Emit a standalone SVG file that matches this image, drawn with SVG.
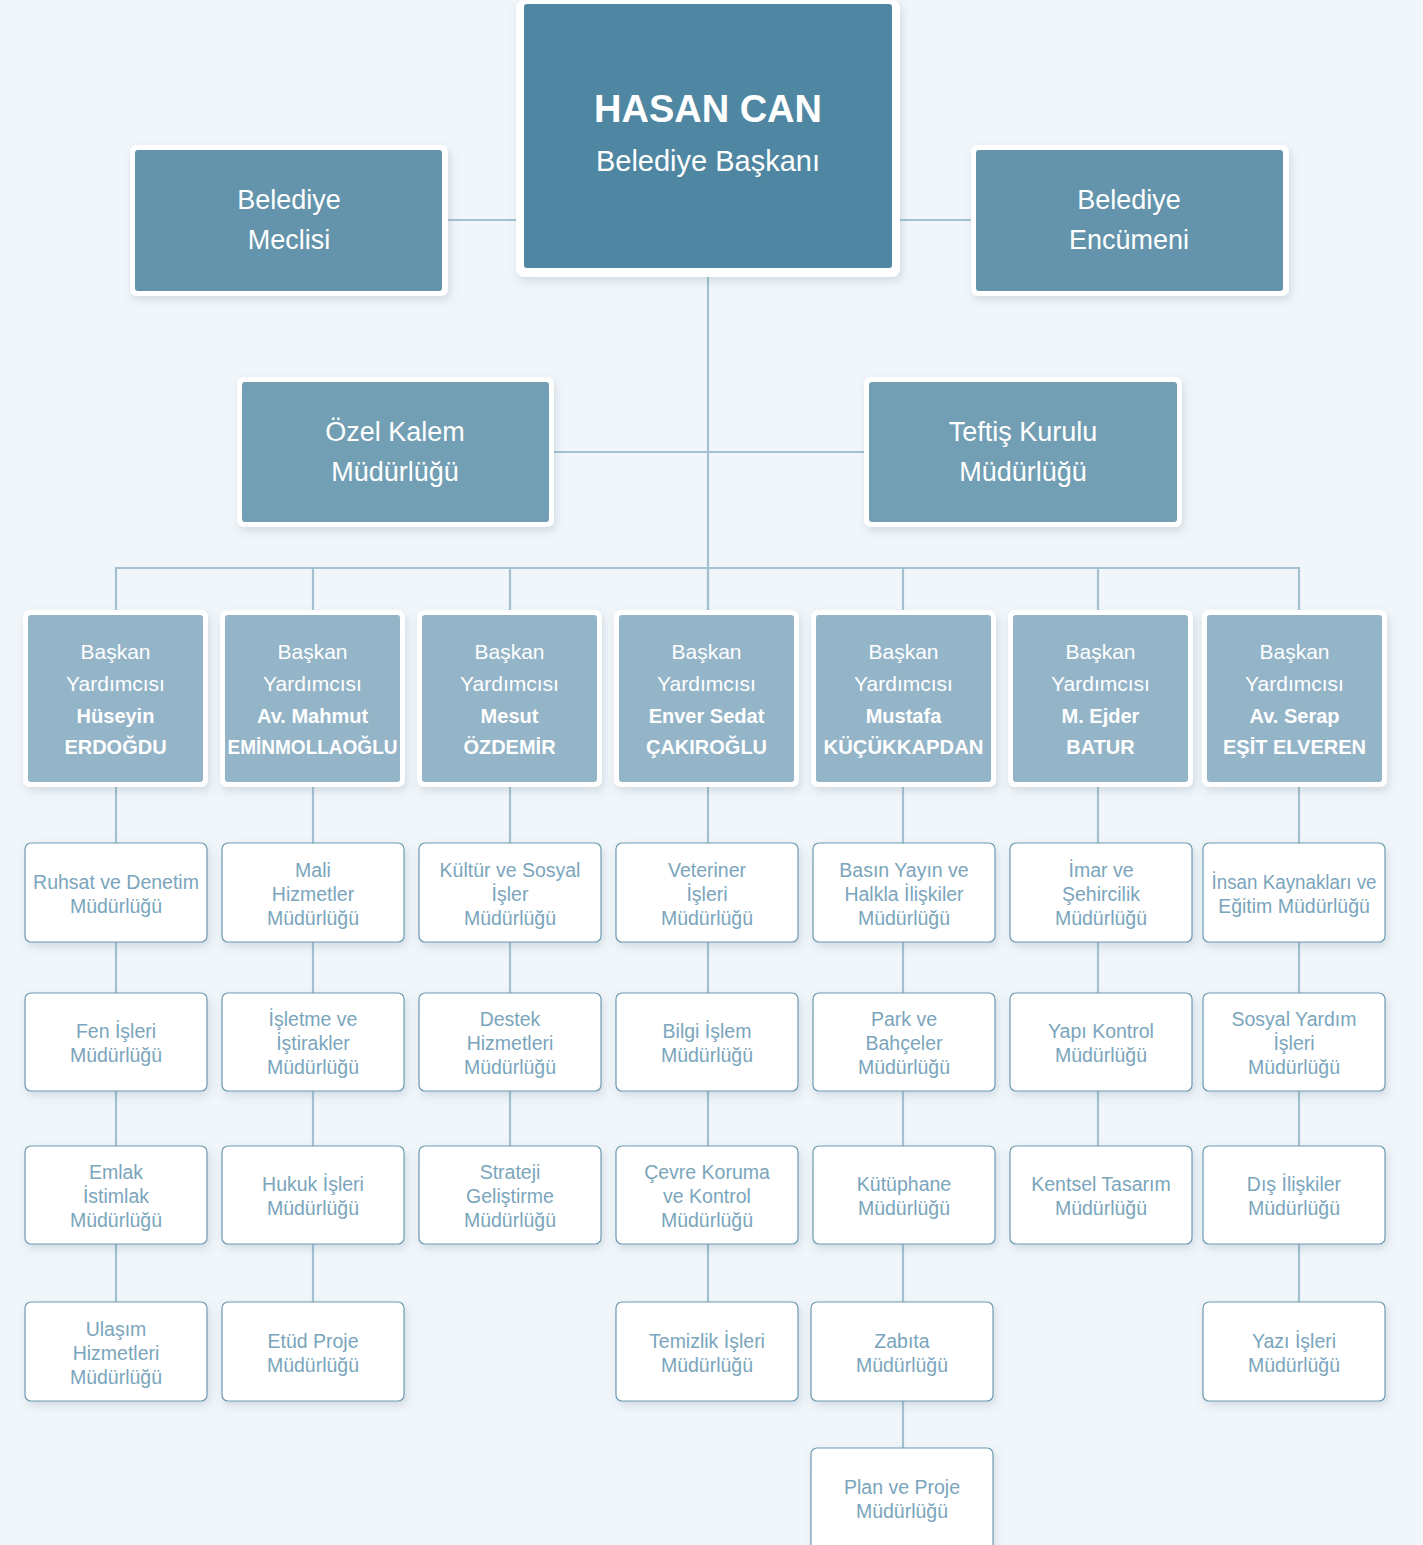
<svg xmlns="http://www.w3.org/2000/svg" width="1423" height="1545" viewBox="0 0 1423 1545">
<defs>
<filter id="sh" x="-10%" y="-10%" width="125%" height="130%">
<feDropShadow dx="2" dy="4" stdDeviation="4" flood-color="#5a7a8c" flood-opacity="0.22"/>
</filter>
<style>
.frame{fill:#ffffff;filter:url(#sh)}
.top{fill:#4F87A2}
.side{fill:#6494AB}
.mid{fill:#729FB4}
.dep{fill:#94B4C8}
.leaf{fill:#ffffff;stroke:#6E9AB1;stroke-width:1.2;filter:url(#sh)}
.con{stroke:#A4C1D2;stroke-width:2.2;fill:none}
text{font-family:"Liberation Sans",Arial,sans-serif;text-anchor:middle}
.wt{fill:#ffffff}
.big{font-size:38px;font-weight:bold}
.sub{font-size:29px}
.t27{font-size:27px}
.d{font-size:21px}
.db{font-size:20px;font-weight:bold}
.lt{fill:#7AA5BC;font-size:19.5px}
</style>
</defs>
<rect width="1423" height="1545" fill="#F1F6FA"/>
<g id="connectors">
<line class="con" x1="448" y1="220" x2="516" y2="220"/>
<line class="con" x1="899" y1="220" x2="971" y2="220"/>
<line class="con" x1="708" y1="277" x2="708" y2="612"/>
<line class="con" x1="554" y1="452" x2="864" y2="452"/>
<line class="con" x1="116" y1="568" x2="1299" y2="568"/>
<line class="con" x1="116" y1="567" x2="116" y2="1302"/>
<line class="con" x1="313" y1="568" x2="313" y2="1302"/>
<line class="con" x1="510" y1="568" x2="510" y2="1146"/>
<line class="con" x1="708" y1="568" x2="708" y2="1302"/>
<line class="con" x1="903" y1="568" x2="903" y2="1448"/>
<line class="con" x1="1098" y1="568" x2="1098" y2="1146"/>
<line class="con" x1="1299" y1="567" x2="1299" y2="1302"/>
</g>
<g id="baskan">
<rect class="frame" x="516" y="0" width="384" height="277" rx="8"/>
<rect class="top" x="524" y="4" width="368" height="264" rx="3"/>
<text class="wt big" x="708" y="122">HASAN CAN</text>
<text class="wt sub" x="708" y="171">Belediye Başkanı</text>
</g>
<g id="meclis">
<rect class="frame" x="130" y="145" width="318" height="151" rx="7"/>
<rect class="side" x="135" y="150" width="307" height="141" rx="3"/>
<text class="wt t27" x="289" y="209">Belediye</text>
<text class="wt t27" x="289" y="249">Meclisi</text>
</g>
<g id="encumen">
<rect class="frame" x="971" y="145" width="318" height="151" rx="7"/>
<rect class="side" x="976" y="150" width="307" height="141" rx="3"/>
<text class="wt t27" x="1129" y="209">Belediye</text>
<text class="wt t27" x="1129" y="249">Encümeni</text>
</g>
<g id="ozelkalem">
<rect class="frame" x="237" y="377" width="317" height="150" rx="7"/>
<rect class="mid" x="242" y="382" width="307" height="140" rx="3"/>
<text class="wt t27" x="395" y="441">Özel Kalem</text>
<text class="wt t27" x="395" y="481">Müdürlüğü</text>
</g>
<g id="teftis">
<rect class="frame" x="864" y="377" width="318" height="150" rx="7"/>
<rect class="mid" x="869" y="382" width="308" height="140" rx="3"/>
<text class="wt t27" x="1023" y="441">Teftiş Kurulu</text>
<text class="wt t27" x="1023" y="481">Müdürlüğü</text>
</g>
<g id="dep1">
<rect class="frame" x="23" y="610" width="185" height="177" rx="7"/>
<rect class="dep" x="28" y="615" width="175" height="167" rx="3"/>
<text class="wt d" x="115.5" y="659">Başkan</text><text class="wt d" x="115.5" y="691">Yardımcısı</text>
<text class="wt db" x="115.5" y="723">Hüseyin</text><text class="wt db" x="115.5" y="754">ERDOĞDU</text>
</g>
<g id="dep2">
<rect class="frame" x="220" y="610" width="185" height="177" rx="7"/>
<rect class="dep" x="225" y="615" width="175" height="167" rx="3"/>
<text class="wt d" x="312.5" y="659">Başkan</text><text class="wt d" x="312.5" y="691">Yardımcısı</text>
<text class="wt db" x="312.5" y="723">Av. Mahmut</text><text class="wt db" x="312.5" y="754" textLength="170" lengthAdjust="spacingAndGlyphs">EMİNMOLLAOĞLU</text>
</g>
<g id="dep3">
<rect class="frame" x="417" y="610" width="185" height="177" rx="7"/>
<rect class="dep" x="422" y="615" width="175" height="167" rx="3"/>
<text class="wt d" x="509.5" y="659">Başkan</text><text class="wt d" x="509.5" y="691">Yardımcısı</text>
<text class="wt db" x="509.5" y="723">Mesut</text><text class="wt db" x="509.5" y="754">ÖZDEMİR</text>
</g>
<g id="dep4">
<rect class="frame" x="614" y="610" width="185" height="177" rx="7"/>
<rect class="dep" x="619" y="615" width="175" height="167" rx="3"/>
<text class="wt d" x="706.5" y="659">Başkan</text><text class="wt d" x="706.5" y="691">Yardımcısı</text>
<text class="wt db" x="706.5" y="723">Enver Sedat</text><text class="wt db" x="706.5" y="754">ÇAKIROĞLU</text>
</g>
<g id="dep5">
<rect class="frame" x="811" y="610" width="185" height="177" rx="7"/>
<rect class="dep" x="816" y="615" width="175" height="167" rx="3"/>
<text class="wt d" x="903.5" y="659">Başkan</text><text class="wt d" x="903.5" y="691">Yardımcısı</text>
<text class="wt db" x="903.5" y="723">Mustafa</text><text class="wt db" x="903.5" y="754" textLength="160" lengthAdjust="spacingAndGlyphs">KÜÇÜKKAPDAN</text>
</g>
<g id="dep6">
<rect class="frame" x="1008" y="610" width="185" height="177" rx="7"/>
<rect class="dep" x="1013" y="615" width="175" height="167" rx="3"/>
<text class="wt d" x="1100.5" y="659">Başkan</text><text class="wt d" x="1100.5" y="691">Yardımcısı</text>
<text class="wt db" x="1100.5" y="723">M. Ejder</text><text class="wt db" x="1100.5" y="754">BATUR</text>
</g>
<g id="dep7">
<rect class="frame" x="1202" y="610" width="185" height="177" rx="7"/>
<rect class="dep" x="1207" y="615" width="175" height="167" rx="3"/>
<text class="wt d" x="1294.5" y="659">Başkan</text><text class="wt d" x="1294.5" y="691">Yardımcısı</text>
<text class="wt db" x="1294.5" y="723">Av. Serap</text><text class="wt db" x="1294.5" y="754">EŞİT ELVEREN</text>
</g>
<!-- Row 1 -->
<g id="ruhsat"><rect class="leaf" x="25" y="843" width="182" height="99" rx="6"/><text class="lt" x="116" y="889">Ruhsat ve Denetim</text><text class="lt" x="116" y="913">Müdürlüğü</text></g>
<g id="mali"><rect class="leaf" x="222" y="843" width="182" height="99" rx="6"/><text class="lt" x="313" y="877">Mali</text><text class="lt" x="313" y="901">Hizmetler</text><text class="lt" x="313" y="925">Müdürlüğü</text></g>
<g id="kultur"><rect class="leaf" x="419" y="843" width="182" height="99" rx="6"/><text class="lt" x="510" y="877">Kültür ve Sosyal</text><text class="lt" x="510" y="901">İşler</text><text class="lt" x="510" y="925">Müdürlüğü</text></g>
<g id="veteriner"><rect class="leaf" x="616" y="843" width="182" height="99" rx="6"/><text class="lt" x="707" y="877">Veteriner</text><text class="lt" x="707" y="901">İşleri</text><text class="lt" x="707" y="925">Müdürlüğü</text></g>
<g id="basin"><rect class="leaf" x="813" y="843" width="182" height="99" rx="6"/><text class="lt" x="904" y="877">Basın Yayın ve</text><text class="lt" x="904" y="901">Halkla İlişkiler</text><text class="lt" x="904" y="925">Müdürlüğü</text></g>
<g id="imar"><rect class="leaf" x="1010" y="843" width="182" height="99" rx="6"/><text class="lt" x="1101" y="877">İmar ve</text><text class="lt" x="1101" y="901">Şehircilik</text><text class="lt" x="1101" y="925">Müdürlüğü</text></g>
<g id="insan"><rect class="leaf" x="1203" y="843" width="182" height="99" rx="6"/><text class="lt" x="1294" y="889" textLength="165" lengthAdjust="spacingAndGlyphs">İnsan Kaynakları ve</text><text class="lt" x="1294" y="913">Eğitim Müdürlüğü</text></g>
<!-- Row 2 -->
<g id="fen"><rect class="leaf" x="25" y="993" width="182" height="98" rx="6"/><text class="lt" x="116" y="1038">Fen İşleri</text><text class="lt" x="116" y="1062">Müdürlüğü</text></g>
<g id="isletme"><rect class="leaf" x="222" y="993" width="182" height="98" rx="6"/><text class="lt" x="313" y="1026">İşletme ve</text><text class="lt" x="313" y="1050">İştirakler</text><text class="lt" x="313" y="1074">Müdürlüğü</text></g>
<g id="destek"><rect class="leaf" x="419" y="993" width="182" height="98" rx="6"/><text class="lt" x="510" y="1026">Destek</text><text class="lt" x="510" y="1050">Hizmetleri</text><text class="lt" x="510" y="1074">Müdürlüğü</text></g>
<g id="bilgi"><rect class="leaf" x="616" y="993" width="182" height="98" rx="6"/><text class="lt" x="707" y="1038">Bilgi İşlem</text><text class="lt" x="707" y="1062">Müdürlüğü</text></g>
<g id="park"><rect class="leaf" x="813" y="993" width="182" height="98" rx="6"/><text class="lt" x="904" y="1026">Park ve</text><text class="lt" x="904" y="1050">Bahçeler</text><text class="lt" x="904" y="1074">Müdürlüğü</text></g>
<g id="yapi"><rect class="leaf" x="1010" y="993" width="182" height="98" rx="6"/><text class="lt" x="1101" y="1038">Yapı Kontrol</text><text class="lt" x="1101" y="1062">Müdürlüğü</text></g>
<g id="sosyal"><rect class="leaf" x="1203" y="993" width="182" height="98" rx="6"/><text class="lt" x="1294" y="1026">Sosyal Yardım</text><text class="lt" x="1294" y="1050">İşleri</text><text class="lt" x="1294" y="1074">Müdürlüğü</text></g>
<!-- Row 3 -->
<g id="emlak"><rect class="leaf" x="25" y="1146" width="182" height="98" rx="6"/><text class="lt" x="116" y="1179">Emlak</text><text class="lt" x="116" y="1203">İstimlak</text><text class="lt" x="116" y="1227">Müdürlüğü</text></g>
<g id="hukuk"><rect class="leaf" x="222" y="1146" width="182" height="98" rx="6"/><text class="lt" x="313" y="1191">Hukuk İşleri</text><text class="lt" x="313" y="1215">Müdürlüğü</text></g>
<g id="strateji"><rect class="leaf" x="419" y="1146" width="182" height="98" rx="6"/><text class="lt" x="510" y="1179">Strateji</text><text class="lt" x="510" y="1203">Geliştirme</text><text class="lt" x="510" y="1227">Müdürlüğü</text></g>
<g id="cevre"><rect class="leaf" x="616" y="1146" width="182" height="98" rx="6"/><text class="lt" x="707" y="1179">Çevre Koruma</text><text class="lt" x="707" y="1203">ve Kontrol</text><text class="lt" x="707" y="1227">Müdürlüğü</text></g>
<g id="kutuphane"><rect class="leaf" x="813" y="1146" width="182" height="98" rx="6"/><text class="lt" x="904" y="1191">Kütüphane</text><text class="lt" x="904" y="1215">Müdürlüğü</text></g>
<g id="kentsel"><rect class="leaf" x="1010" y="1146" width="182" height="98" rx="6"/><text class="lt" x="1101" y="1191">Kentsel Tasarım</text><text class="lt" x="1101" y="1215">Müdürlüğü</text></g>
<g id="dis"><rect class="leaf" x="1203" y="1146" width="182" height="98" rx="6"/><text class="lt" x="1294" y="1191">Dış İlişkiler</text><text class="lt" x="1294" y="1215">Müdürlüğü</text></g>
<!-- Row 4 -->
<g id="ulasim"><rect class="leaf" x="25" y="1302" width="182" height="99" rx="6"/><text class="lt" x="116" y="1336">Ulaşım</text><text class="lt" x="116" y="1360">Hizmetleri</text><text class="lt" x="116" y="1384">Müdürlüğü</text></g>
<g id="etud"><rect class="leaf" x="222" y="1302" width="182" height="99" rx="6"/><text class="lt" x="313" y="1348">Etüd Proje</text><text class="lt" x="313" y="1372">Müdürlüğü</text></g>
<g id="temizlik"><rect class="leaf" x="616" y="1302" width="182" height="99" rx="6"/><text class="lt" x="707" y="1348">Temizlik İşleri</text><text class="lt" x="707" y="1372">Müdürlüğü</text></g>
<g id="zabita"><rect class="leaf" x="811" y="1302" width="182" height="99" rx="6"/><text class="lt" x="902" y="1348">Zabıta</text><text class="lt" x="902" y="1372">Müdürlüğü</text></g>
<g id="yazi"><rect class="leaf" x="1203" y="1302" width="182" height="99" rx="6"/><text class="lt" x="1294" y="1348">Yazı İşleri</text><text class="lt" x="1294" y="1372">Müdürlüğü</text></g>
<!-- Row 5 -->
<g id="plan"><rect class="leaf" x="811" y="1448" width="182" height="104" rx="6"/><text class="lt" x="902" y="1494">Plan ve Proje</text><text class="lt" x="902" y="1518">Müdürlüğü</text></g>
</svg>
